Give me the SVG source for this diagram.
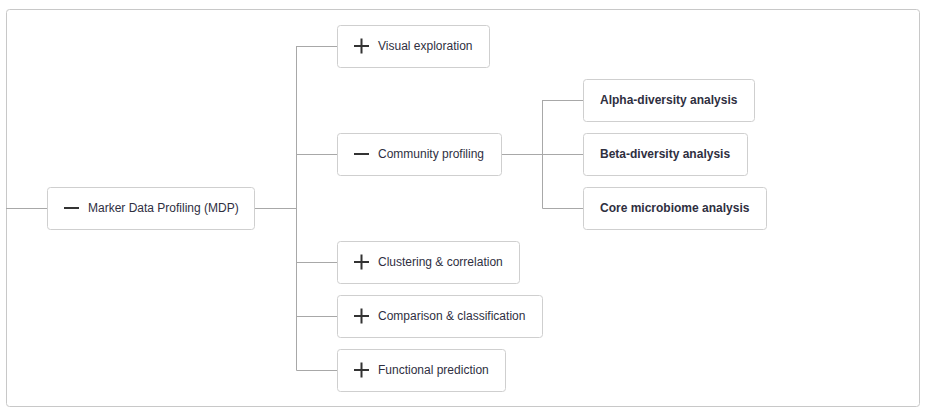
<svg xmlns="http://www.w3.org/2000/svg" width="931" height="417" viewBox="0 0 931 417">
<style>
.frame{fill:#fff;stroke:#c8c8c8;stroke-width:1}
.box{fill:#fff;stroke:#cfcfcf;stroke-width:1}
.lbl{font-family:"Liberation Sans",Arial,sans-serif;font-size:12px;fill:#2f2f3f;dominant-baseline:central}
.b{font-weight:bold}
.ic{stroke:#333;stroke-width:2;fill:none}
.ln{stroke:#a8a8a8;stroke-width:1;fill:none}
</style>
<rect width="931" height="417" fill="#fff"/>
<rect class="frame" x="6.5" y="9.5" width="913" height="397" rx="3"/>
<g id="connectors">
<path class="ln" d="M6 208.5H47.5M255 208.5H296.5M296.5 46V370.5M296.5 46.5H337.5M296.5 154.5H337.5M296.5 262.5H337.5M296.5 316.5H337.5M296.5 370.5H337.5"/>
<path class="ln" d="M501.5 154.5H583.5M542.5 100V208.5M542.5 100.5H583.5M542.5 208.5H583.5"/>
</g>
<g id="mdp">
<rect class="box" x="47.5" y="187.5" width="207" height="42" rx="3"/>
<path class="ic" d="M64 208H79"/>
<text class="lbl" x="88" y="207.5">Marker Data Profiling (MDP)</text>
</g>
<g id="visual">
<rect class="box" x="337.5" y="25.5" width="152" height="42" rx="3"/>
<path class="ic" d="M354 46H369M361.5 38.5V53.5"/>
<text class="lbl" x="378" y="45.5">Visual exploration</text>
</g>
<g id="community">
<rect class="box" x="337.5" y="133.5" width="164" height="42" rx="3"/>
<path class="ic" d="M354 154H369"/>
<text class="lbl" x="378" y="153.5">Community profiling</text>
</g>
<g id="clustering">
<rect class="box" x="337.5" y="241.5" width="182" height="42" rx="3"/>
<path class="ic" d="M354 262H369M361.5 254.5V269.5"/>
<text class="lbl" x="378" y="261.5">Clustering &amp; correlation</text>
</g>
<g id="comparison">
<rect class="box" x="337.5" y="295.5" width="205" height="42" rx="3"/>
<path class="ic" d="M354 316H369M361.5 308.5V323.5"/>
<text class="lbl" x="378" y="315.5">Comparison &amp; classification</text>
</g>
<g id="functional">
<rect class="box" x="337.5" y="349.5" width="168" height="42" rx="3"/>
<path class="ic" d="M354 370H369M361.5 362.5V377.5"/>
<text class="lbl" x="378" y="369.5">Functional prediction</text>
</g>
<g id="alpha">
<rect class="box" x="583.5" y="79.5" width="171" height="42" rx="3"/>
<text class="lbl b" x="600" y="99.5">Alpha-diversity analysis</text>
</g>
<g id="beta">
<rect class="box" x="583.5" y="133.5" width="164" height="42" rx="3"/>
<text class="lbl b" x="600" y="153.5">Beta-diversity analysis</text>
</g>
<g id="core">
<rect class="box" x="583.5" y="187.5" width="183" height="42" rx="3"/>
<text class="lbl b" x="600" y="207.5">Core microbiome analysis</text>
</g>
</svg>
